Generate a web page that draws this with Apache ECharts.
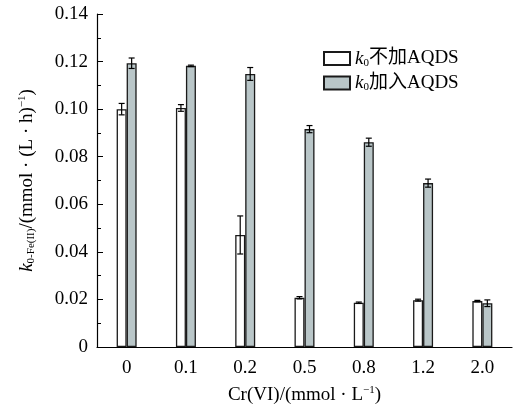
<!DOCTYPE html>
<html><head><meta charset="utf-8">
<script src="https://cdn.jsdelivr.net/npm/echarts@6/dist/echarts.min.js"></script>
<style>html,body{margin:0;padding:0;background:#fff}#c{width:513px;height:412px}</style>
</head><body><div id="c"></div>
<script>
const categories = ['0', '0.1', '0.2', '0.5', '0.8', '1.2', '2.0'];
const seriesNames = ['k0不加AQDS', 'k0加入AQDS'];
const noAqds = [0.1000, 0.1005, 0.0471, 0.0207, 0.0186, 0.0197, 0.0193];
const noAqdsErr = [0.0024, 0.0014, 0.0080, 0.0005, 0.0003, 0.0004, 0.0003];
const withAqds = [0.1193, 0.1182, 0.1148, 0.0916, 0.0861, 0.0689, 0.0184];
const withAqdsErr = [0.0022, 0.0003, 0.0027, 0.0015, 0.0017, 0.0017, 0.0014];
const yTicks = [0, 0.02, 0.04, 0.06, 0.08, 0.10, 0.12, 0.14];

const FONT = '"Liberation Serif", "Times New Roman", "Noto Sans CJK SC", serif';
const FS = 19;
const BAR_W = 10;

function errSeries(vals, errs, side) {
  return {
    type: 'custom',
    z: 5,
    silent: true,
    data: vals.map((v, i) => [i, v, errs[i]]),
    renderItem: function (params, api) {
      const i = api.value(0), v = api.value(1), e = api.value(2);
      const c = api.coord([i, v]);
      const x = c[0] + side * BAR_W / 2;
      const top = api.coord([i, v + e])[1];
      const bot = api.coord([i, v - e])[1];
      const cap = 3;
      const st = { stroke: '#000', lineWidth: 1.2 };
      return {
        type: 'group',
        children: [
          { type: 'line', shape: { x1: x, y1: top, x2: x, y2: bot }, style: st },
          { type: 'line', shape: { x1: x - cap, y1: top, x2: x + cap, y2: top }, style: st },
          { type: 'line', shape: { x1: x - cap, y1: bot, x2: x + cap, y2: bot }, style: st }
        ]
      };
    }
  };
}

const chart = echarts.init(document.getElementById('c'), null, { renderer: 'canvas' });
const legendRich = {
  i: { fontFamily: FONT, fontStyle: 'italic', fontSize: FS, color: '#000' },
  s: { fontFamily: FONT, fontSize: 11, color: '#000', verticalAlign: 'bottom', padding: [9, 0, 0, 0] },
  t: { fontFamily: FONT, fontSize: FS, color: '#000' }
};
chart.setOption({
  animation: false,
  backgroundColor: '#fff',
  grid: { left: 97, right: 1, top: 14, bottom: 65 },
  legend: {
    orient: 'vertical',
    left: 318, top: 44,
    icon: 'rect',
    itemWidth: 26, itemHeight: 13, itemGap: 5,
    data: seriesNames,
    formatter: function (n) { return '{i|k}{s|0}{t|' + n.slice(2) + '}'; },
    textStyle: { rich: legendRich, fontFamily: FONT, fontSize: FS, color: '#000' }
  },
  xAxis: {
    type: 'category',
    data: categories,
    axisLine: { lineStyle: { color: '#000', width: 1.2 } },
    axisTick: { show: false },
    axisLabel: { color: '#000', fontFamily: FONT, fontSize: FS, margin: 12 },
    name: 'Cr(VI)/(mmol · L{sup|−1})',
    nameLocation: 'middle',
    nameGap: 38,
    nameTextStyle: { color: '#000', fontFamily: FONT, fontSize: FS,
      rich: { sup: { fontFamily: FONT, fontSize: 11, verticalAlign: 'top', padding: [0, 0, 9, 0], color: '#000' } } }
  },
  yAxis: {
    type: 'value',
    min: 0, max: 0.14, interval: 0.02,
    splitLine: { show: false },
    axisLine: { show: true, lineStyle: { color: '#000', width: 1.2 } },
    axisTick: { show: true, inside: true, length: 6, lineStyle: { color: '#000' } },
    minorTick: { show: true, splitNumber: 2, length: 4, lineStyle: { color: '#000' } },
    axisLabel: { color: '#000', fontFamily: FONT, fontSize: FS, margin: 9,
      formatter: function (v) { return v === 0 ? '0' : v.toFixed(2); } },
    name: '{i|k}{s|0-Fe(II)}/(mmol · (L · h){sup|−1})',
    nameLocation: 'middle',
    nameRotate: 90,
    nameGap: 60,
    nameTextStyle: { color: '#000', fontFamily: FONT, fontSize: FS,
      rich: {
        i: { fontFamily: FONT, fontStyle: 'italic', fontSize: FS, color: '#000' },
        s: { fontFamily: FONT, fontSize: 11, color: '#000', verticalAlign: 'bottom', padding: [9, 0, 0, 0] },
        sup: { fontFamily: FONT, fontSize: 11, color: '#000', verticalAlign: 'top', padding: [0, 0, 9, 0] }
      } }
  },
  series: [
    { name: seriesNames[0], type: 'bar', data: noAqds, barWidth: BAR_W, barGap: '0%',
      itemStyle: { color: '#ffffff', borderColor: '#1a1a1a', borderWidth: 1.3 } },
    { name: seriesNames[1], type: 'bar', data: withAqds, barWidth: BAR_W, barGap: '0%',
      itemStyle: { color: '#b9c6c8', borderColor: '#1a1a1a', borderWidth: 1.3 } },
    errSeries(noAqds, noAqdsErr, -1),
    errSeries(withAqds, withAqdsErr, 1)
  ]
});
</script></body></html>
